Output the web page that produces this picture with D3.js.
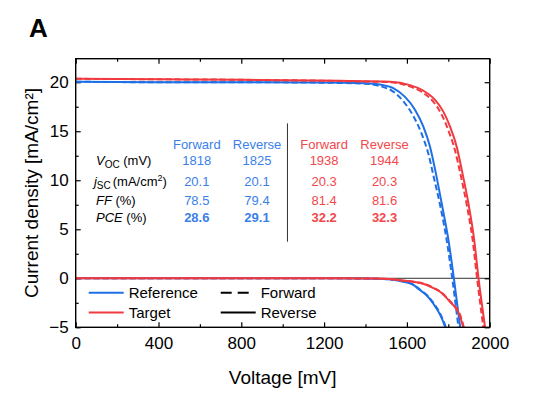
<!DOCTYPE html>
<html>
<head>
<meta charset="utf-8">
<script src="https://cdn.jsdelivr.net/npm/d3@7"></script>
<style>
body { margin: 0; background: #fff; }
svg { display: block; }
text { font-family: Arial, "Liberation Sans", sans-serif; }
</style>
</head>
<body>
<div id="chart"></div>
<script>
// Axis ticks
const voltTicks = [0, 400, 800, 1200, 1600, 2000];
const voltMinor = [200, 600, 1000, 1400, 1800];
const jTicks = [-5, 0, 5, 10, 15, 20];
const jMinor = [-2.5, 2.5, 7.5, 12.5, 17.5];

// Reference cell, light, reverse (solid) and forward (dashed)
const refRevV = [0, 400, 800, 1200, 1400, 1470, 1534, 1591, 1639, 1679, 1712, 1741, 1768, 1800, 1827, 1857, 1872];
const refRevJ = [20.05, 20.0, 20.0, 19.97, 19.9, 19.76, 19.4, 18.5, 17.2, 15.5, 13.4, 10.6, 7.65, 4.0, 0, -4.94, -7.5];
const refFwdV = [0, 400, 800, 1200, 1400, 1470, 1530, 1585, 1630, 1670, 1705, 1730, 1760, 1792, 1819, 1849, 1864];
const refFwdJ = [20.05, 20.0, 20.0, 19.95, 19.85, 19.6, 19.1, 18.0, 16.6, 14.8, 12.6, 10.3, 7.5, 3.9, 0, -5.0, -7.5];

// Target cell, light
const tarRevV = [0, 400, 800, 1277, 1518, 1615, 1679, 1736, 1776, 1808, 1841, 1865, 1897, 1924, 1946, 1977, 1992];
const tarRevJ = [20.35, 20.3, 20.25, 20.15, 20.05, 19.7, 19.14, 18.2, 17.0, 15.5, 13.4, 11.05, 7.65, 4.1, 0, -4.94, -7.5];
const tarFwdV = [0, 400, 800, 1277, 1518, 1610, 1672, 1728, 1768, 1800, 1833, 1858, 1890, 1917, 1939, 1969, 1984];
const tarFwdJ = [20.35, 20.3, 20.25, 20.12, 20.0, 19.6, 19.0, 18.0, 16.7, 15.1, 13.0, 10.7, 7.4, 4.0, 0, -5.0, -7.5];

// Dark curves
const refDarkRevV = [0, 800, 1200, 1400, 1486, 1567, 1631, 1663, 1696, 1728, 1760, 1784, 1800];
const refDarkRevJ = [0, 0, 0, -0.03, -0.08, -0.28, -0.68, -1.2, -1.75, -2.6, -3.7, -4.94, -6.2];
const refDarkFwdV = [0, 800, 1200, 1400, 1490, 1570, 1634, 1666, 1699, 1731, 1763, 1787, 1803];
const refDarkFwdJ = [0, 0, 0, -0.03, -0.08, -0.28, -0.68, -1.2, -1.75, -2.6, -3.7, -4.94, -6.2];
const tarDarkRevV = [0, 800, 1200, 1450, 1530, 1567, 1615, 1696, 1728, 1760, 1808, 1841, 1857, 1871, 1885];
const tarDarkRevJ = [0, 0, 0, -0.03, -0.1, -0.2, -0.3, -0.68, -1.0, -1.37, -2.39, -3.2, -3.9, -4.94, -6.2];
const tarDarkFwdV = [0, 800, 1200, 1452, 1533, 1570, 1618, 1699, 1731, 1763, 1811, 1844, 1860, 1874, 1888];
const tarDarkFwdJ = [0, 0, 0, -0.03, -0.1, -0.2, -0.3, -0.68, -1.0, -1.37, -2.39, -3.2, -3.9, -4.94, -6.2];

// Parameter table
const columnHeads = ["Forward", "Reverse", "Forward", "Reverse"];
const refForward = ["1818", "20.1", "78.5", "28.6"];
const refReverse = ["1825", "20.1", "79.4", "29.1"];
const tarForward = ["1938", "20.3", "81.4", "32.2"];
const tarReverse = ["1944", "20.3", "81.6", "32.3"];

const legendSeries = ["Reference", "Target"];
const legendScans = ["Forward", "Reverse"];

const blue = "#1f6fe5", red = "#f03a40";
const blueText = "#3b7fe8", redText = "#f2474b";

const width = 535, height = 396;
const margin = { top: 58.7, right: 45.3, bottom: 68.7, left: 75.7 };
const innerW = width - margin.left - margin.right;
const innerH = height - margin.top - margin.bottom;

const svg = d3.select("#chart").append("svg")
    .attr("width", width)
    .attr("height", height);

const x = d3.scaleLinear().domain([0, 2000]).range([0, innerW]);
const y = d3.scaleLinear().domain([-5, 22.4]).range([innerH, 0]);

// panel letter
svg.append("text")
    .attr("x", 29)
    .attr("y", 37)
    .style("font-size", "26px")
    .style("font-weight", "bold")
    .text("A");

const g = svg.append("g")
    .attr("transform", `translate(${margin.left},${margin.top})`);

g.append("clipPath").attr("id", "clip")
    .append("rect").attr("width", innerW).attr("height", innerH);

// zero line
g.append("line")
    .attr("x1", 0).attr("x2", innerW)
    .attr("y1", y(0)).attr("y2", y(0))
    .attr("stroke", "#333").attr("stroke-width", 1);

// axes with inward ticks
function styleAxis(sel) {
    sel.select(".domain").remove();
    sel.selectAll("line").attr("stroke", "#000").attr("stroke-width", 1.2);
    sel.selectAll("text").style("font-size", "17px").attr("fill", "#000");
}

g.append("g").attr("transform", `translate(0,${innerH})`)
    .call(d3.axisBottom(x).tickValues(voltTicks).tickSize(-5).tickPadding(10).tickFormat(d3.format("d")))
    .call(styleAxis);
g.append("g").attr("transform", `translate(0,${innerH})`)
    .call(d3.axisBottom(x).tickValues(voltMinor).tickSize(-3).tickFormat(""))
    .call(styleAxis);
g.append("g")
    .call(d3.axisTop(x).tickValues(voltTicks).tickSize(-5).tickFormat(""))
    .call(styleAxis);
g.append("g")
    .call(d3.axisTop(x).tickValues(voltMinor).tickSize(-3).tickFormat(""))
    .call(styleAxis);

g.append("g")
    .call(d3.axisLeft(y).tickValues(jTicks).tickSize(-5).tickPadding(7).tickFormat(d => d < 0 ? "\u2212" + Math.abs(d) : d))
    .call(styleAxis);
g.append("g")
    .call(d3.axisLeft(y).tickValues(jMinor).tickSize(-3).tickFormat(""))
    .call(styleAxis);
g.append("g").attr("transform", `translate(${innerW},0)`)
    .call(d3.axisRight(y).tickValues(jTicks).tickSize(-5).tickFormat(""))
    .call(styleAxis);
g.append("g").attr("transform", `translate(${innerW},0)`)
    .call(d3.axisRight(y).tickValues(jMinor).tickSize(-3).tickFormat(""))
    .call(styleAxis);

// curves
const line = d3.line()
    .x(d => x(d[0]))
    .y(d => y(d[1]))
    .curve(d3.curveMonotoneX);

const curves = [
    { v: refDarkRevV, j: refDarkRevJ, color: blue, dash: null },
    { v: refDarkFwdV, j: refDarkFwdJ, color: blue, dash: "6,3" },
    { v: refRevV, j: refRevJ, color: blue, dash: null },
    { v: refFwdV, j: refFwdJ, color: blue, dash: "6,3" },
    { v: tarDarkRevV, j: tarDarkRevJ, color: red, dash: null },
    { v: tarDarkFwdV, j: tarDarkFwdJ, color: red, dash: "6,3" },
    { v: tarRevV, j: tarRevJ, color: red, dash: null },
    { v: tarFwdV, j: tarFwdJ, color: red, dash: "6,3" }
];

g.append("g").attr("clip-path", "url(#clip)")
    .selectAll("path")
    .data(curves)
    .enter()
    .append("path")
    .attr("d", c => line(c.v.map((v, i) => [v, c.j[i]])))
    .attr("fill", "none")
    .attr("stroke", c => c.color)
    .attr("stroke-width", 2)
    .attr("stroke-dasharray", c => c.dash);

// frame
g.append("rect")
    .attr("width", innerW).attr("height", innerH)
    .attr("fill", "none")
    .attr("stroke", "#000")
    .attr("stroke-width", 1.4);

// ========== TABLE ========== //
const colV = [585, 876, 1200, 1492];
const colColor = [blueText, blueText, redText, redText];
const rowJ = [11.56, 9.42, 7.48, 5.78];
const table = g.append("g").style("font-size", "13px");

columnHeads.forEach((h, i) => {
    table.append("text")
        .attr("x", x(colV[i])).attr("y", y(13.16))
        .attr("text-anchor", "middle")
        .attr("fill", colColor[i])
        .text(h);
});

[refForward, refReverse, tarForward, tarReverse].forEach((col, i) => {
    col.forEach((val, r) => {
        table.append("text")
            .attr("x", x(colV[i])).attr("y", y(rowJ[r]))
            .attr("text-anchor", "middle")
            .attr("fill", colColor[i])
            .style("font-weight", r === 3 ? "bold" : null)
            .text(val);
    });
});

const labelX = x(98);
const voc = table.append("text").attr("x", labelX).attr("y", y(rowJ[0]));
voc.append("tspan").style("font-style", "italic").text("V");
voc.append("tspan").style("font-size", "10px").attr("dy", 3).text("OC");
voc.append("tspan").attr("dy", -3).text(" (mV)");

const jsc = table.append("text").attr("x", labelX - 2).attr("y", y(rowJ[1]));
jsc.append("tspan").style("font-style", "italic").text("j");
jsc.append("tspan").style("font-size", "10px").attr("dy", 3).text("SC");
jsc.append("tspan").attr("dy", -3).attr("dx", 2).text("(mA/cm");
jsc.append("tspan").style("font-size", "9px").attr("dy", -5).text("2");
jsc.append("tspan").attr("dy", 5).text(")");

const ff = table.append("text").attr("x", labelX).attr("y", y(rowJ[2]));
ff.append("tspan").style("font-style", "italic").text("FF");
ff.append("tspan").text(" (%)");

const pce = table.append("text").attr("x", labelX).attr("y", y(rowJ[3]));
pce.append("tspan").style("font-style", "italic").text("PCE");
pce.append("tspan").text(" (%)");

table.append("line")
    .attr("x1", x(1023)).attr("x2", x(1023))
    .attr("y1", y(15.8)).attr("y2", y(3.73))
    .attr("stroke", "#333").attr("stroke-width", 1);

// ========== LEGEND ========== //
const legend = g.append("g")
    .attr("transform", `translate(13,${y(0) + 14.5})`)
    .style("font-size", "15px");

legendSeries.forEach((name, i) => {
    const row = legend.append("g").attr("transform", `translate(0,${i * 19.7})`);
    row.append("line").attr("x1", 0).attr("x2", 35)
        .attr("stroke", i === 0 ? blue : red).attr("stroke-width", 2);
    row.append("text").attr("x", 40).attr("y", 5.5).text(name);
});

legendScans.forEach((name, i) => {
    const row = legend.append("g").attr("transform", `translate(132,${i * 19.7})`);
    row.append("line").attr("x1", 0).attr("x2", i === 0 ? 28 : 35)
        .attr("stroke", "#000").attr("stroke-width", 2)
        .attr("stroke-dasharray", i === 0 ? "11,6" : null);
    row.append("text").attr("x", 40).attr("y", 5.5).text(name);
});

// axis titles
svg.append("text")
    .attr("x", margin.left + innerW / 2)
    .attr("y", 384)
    .attr("text-anchor", "middle")
    .style("font-size", "19px")
    .text("Voltage [mV]");

svg.append("text")
    .attr("transform", `translate(38,${margin.top + innerH / 2}) rotate(-90)`)
    .attr("text-anchor", "middle")
    .style("font-size", "19px")
    .text("Current density [mA/cm\u00b2]");
</script>
</body>
</html>
